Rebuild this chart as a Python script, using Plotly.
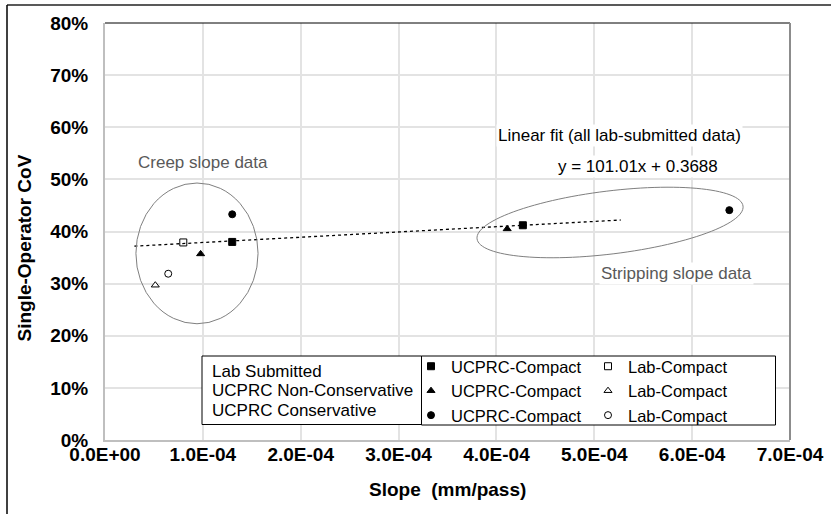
import numpy as np
import plotly.graph_objects as go

# ---- data ----
filled_sq_x = [1.30e-4, 4.27e-4]; filled_sq_y = [0.380, 0.412]
open_sq_x = [0.80e-4];            open_sq_y = [0.379]
filled_tri_x = [0.977e-4, 4.11e-4]; filled_tri_y = [0.357, 0.405]
open_tri_x = [0.514e-4];          open_tri_y = [0.297]
filled_cir_x = [1.30e-4, 6.38e-4]; filled_cir_y = [0.433, 0.441]
open_cir_x = [0.646e-4];          open_cir_y = [0.319]

fit_slope = 101.01
fit_intercept = 0.3688
fit_x = [0.30e-4, 5.27e-4]

x_tickvals = [0, 1e-4, 2e-4, 3e-4, 4e-4, 5e-4, 6e-4, 7e-4]
x_ticktext = ["0.0E+00", "1.0E-04", "2.0E-04", "3.0E-04", "4.0E-04", "5.0E-04", "6.0E-04", "7.0E-04"]
y_tickvals = [0, 0.1, 0.2, 0.3, 0.4, 0.5, 0.6, 0.7, 0.8]

# ---- layout geometry ----
W, H = 831, 514
L, R, T, B = 105, 41, 23, 74
PW, PH = W - L - R, H - T - B
XMAX, YMAX = 7e-4, 0.8

def px(xp):  # pixel x -> paper
    return (xp - L) / PW
def py(yp):  # pixel y -> paper
    return (H - B - yp) / PH

FONT = "Liberation Sans, Arial, sans-serif"
GRAY_TXT = "#595959"

fig = go.Figure()

def add(x, y, name, symbol, filled, legend):
    fig.add_trace(go.Scatter(
        x=x, y=y, mode="markers", name=name, legend=legend,
        marker=dict(symbol=symbol, size=7,
                    color="black" if filled else "white",
                    line=dict(color="black", width=1)),
    ))

add(filled_sq_x, filled_sq_y, "UCPRC-Compact", "square", True, "legend")
add(filled_tri_x, filled_tri_y, "UCPRC-Compact", "triangle-up", True, "legend")
add(filled_cir_x, filled_cir_y, "UCPRC-Compact", "circle", True, "legend")
add(open_sq_x, open_sq_y, "Lab-Compact", "square", False, "legend2")
add(open_tri_x, open_tri_y, "Lab-Compact", "triangle-up", False, "legend2")
add(open_cir_x, open_cir_y, "Lab-Compact", "circle", False, "legend2")

fit_y = [fit_slope * v + fit_intercept for v in fit_x]
fig.add_trace(go.Scatter(x=fit_x, y=fit_y, mode="lines", showlegend=False,
                         line=dict(color="black", width=1.3, dash="dot")))

shapes = []
# creep ellipse
shapes.append(dict(type="circle", xref="x", yref="y",
                   x0=0.316e-4, x1=1.564e-4, y0=0.223, y1=0.493,
                   line=dict(color="#7f7f7f", width=1)))
# stripping ellipse (rotated) built in screen space then mapped to data
cx, cy = 5.161e-4, 0.4173
a_px, b_px, ang = 134, 31.5, np.deg2rad(7)
t = np.linspace(0, 2 * np.pi, 121)
ex = a_px * np.cos(ang) * np.cos(t) - b_px * np.sin(ang) * np.sin(t)
ey = a_px * np.sin(ang) * np.cos(t) + b_px * np.cos(ang) * np.sin(t)
dx = cx + ex * XMAX / PW
dy = cy + ey * YMAX / PH
path = "M " + " L ".join(f"{a},{b}" for a, b in zip(dx, dy)) + " Z"
shapes.append(dict(type="path", xref="x", yref="y", path=path,
                   line=dict(color="#7f7f7f", width=1)))
# plot frame: top black, right gray
shapes.append(dict(type="line", xref="paper", yref="paper", x0=0, x1=1, y0=1, y1=1,
                   line=dict(color="black", width=1)))
shapes.append(dict(type="line", xref="paper", yref="paper", x0=1, x1=1, y0=0, y1=1,
                   line=dict(color="#8c8c8c", width=2)))
# outer chart frame (top and left edges)
shapes.append(dict(type="line", xref="paper", yref="paper", x0=px(7), x1=px(W + 5), y0=py(5), y1=py(5),
                   line=dict(color="#595959", width=2)))
shapes.append(dict(type="line", xref="paper", yref="paper", x0=px(7), x1=px(7), y0=py(5), y1=py(H + 5),
                   line=dict(color="black", width=1.5)))
# legend boxes
shapes.append(dict(type="rect", xref="paper", yref="paper", x0=px(202), x1=px(421.5), y0=py(424.5), y1=py(356),
                   line=dict(color="black", width=1), fillcolor="white", layer="above"))
shapes.append(dict(type="rect", xref="paper", yref="paper", x0=px(421.5), x1=px(775.5), y0=py(425), y1=py(356),
                   line=dict(color="black", width=1), fillcolor="white", layer="above"))

annotations = []
def ann(text, xp, yp, color="black", size=17, bg=None, xanchor="center", **kw):
    d = dict(text=text, xref="paper", yref="paper", x=px(xp), y=py(yp), showarrow=False,
             xanchor=xanchor, yanchor="middle",
             font=dict(family=FONT, size=size, color=color))
    if bg:
        d["bgcolor"] = bg
    d.update(kw)
    annotations.append(d)

ann("Creep slope data", 202.5, 162, color=GRAY_TXT)
ann("Linear fit (all lab-submitted data)", 619, 135, bg="white")
ann(f"y = {fit_slope:.2f}x + {fit_intercept:.4f}", 637.5, 166.7, bg="white")
ann("Stripping slope data", 676.7, 273.3, color=GRAY_TXT, bg="white")
# left legend block
ann("Lab Submitted", 210, 371.7, xanchor="left")
ann("UCPRC Non-Conservative", 210, 390.5, xanchor="left")
ann("UCPRC Conservative", 210, 410.5, xanchor="left")
# axis titles
ann("<b>Slope\u00a0 (mm/pass)</b>", 447.5, 490, size=19)
ann("<b>Single-Operator CoV</b>", 24, 248.5, size=19, textangle=-90)

leg_common = dict(bgcolor="rgba(0,0,0,0)", borderwidth=0, orientation="v",
                  font=dict(family=FONT, size=16.5, color="black"),
                  xanchor="left", yanchor="top", tracegroupgap=0)

fig.update_layout(
    width=W, height=H,
    margin=dict(l=L, r=R, t=T, b=B, pad=0),
    paper_bgcolor="white", plot_bgcolor="white",
    font=dict(family=FONT, color="black"),
    shapes=shapes, annotations=annotations,
    legend=dict(x=px(451 - 40), y=py(349), **leg_common),
    legend2=dict(x=px(628 - 40), y=py(349), **leg_common),
    xaxis=dict(range=[0, XMAX], tickvals=x_tickvals, ticktext=x_ticktext,
               showgrid=True, gridcolor="#e3e3e3", gridwidth=1.5,
               showline=True, linecolor="#bfbfbf", linewidth=2,
               zeroline=False, ticks="", ticklabelstandoff=-4, automargin=False,
               tickfont=dict(family=FONT, size=19, color="black", weight="bold")),
    yaxis=dict(range=[0, YMAX], tickvals=y_tickvals, tickformat=".0%",
               showgrid=True, gridcolor="#e3e3e3", gridwidth=1.5,
               showline=True, linecolor="#bfbfbf", linewidth=2,
               zeroline=False, ticks="", ticklabelstandoff=11, automargin=False,
               tickfont=dict(family=FONT, size=19, color="black", weight="bold")),
)

fig.write_html("out.html", config={"displayModeBar": False},
               post_script="document.body.style.margin='0px';document.body.style.overflow='hidden';")
